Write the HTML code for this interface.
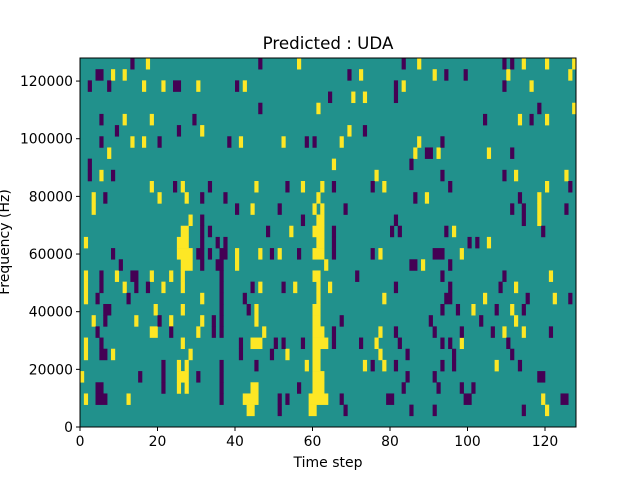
<!DOCTYPE html>
<html><head><meta charset="utf-8"><style>
body{margin:0;background:#fff;font-family:"Liberation Sans","DejaVu Sans",sans-serif;}
svg text{font-family:"DejaVu Sans","Liberation Sans",sans-serif;}
</style></head><body>
<svg id="s" width="640" height="480" xmlns="http://www.w3.org/2000/svg">
<rect x="0" y="0" width="640" height="480" fill="#fff"/>
<rect x="80" y="58" width="496" height="369" fill="#21918c"/>
<g id="cells"></g>
<rect x="80" y="58" width="496" height="369" fill="none" stroke="#000" stroke-width="1"/>
<text x="328" y="49" font-size="16.7" text-anchor="middle">Predicted : UDA</text>
<text x="328" y="467" font-size="14" text-anchor="middle">Time step</text>
<text x="9" y="242" font-size="14" text-anchor="middle" transform="rotate(-90 9 242)">Frequency (Hz)</text>
<g id="ticks" font-size="13.9"></g>
</svg>
<script>
var Y={0:"17,56,87,114,120,127",1:"8,11,72,91,110,126",2:"16,21,30,42,83,116",3:"70,73",4:"61,127",5:"11,18,113,120",6:"31,69",7:"13,16,41,52,67,87",8:"7,86,92,105",9:"65",10:"5,76,112,125",11:"18,26,45,57,62,78,120",12:"3,20,27,61,89,118",13:"3,44,60,62,118",14:"28,61-62,118",15:"26-27,54,60-62,96",16:"1,25-27,61-62,105",17:"25-28,40,46,51,60-62,77,98",18:"26-28,40,63,88",19:"1,9,18,23,26,60-61,121",20:"1,11,21,26,46,55,61,64,112",21:"1,31,61,78,104,122",22:"19,26,45,60-61,101,111",23:"3,14,23,31,45,60-61,112",24:"18-19,30,47,60-62,77,109,114",25:"1,26,44-46,60-63,76,98",26:"1,8,28,53,60-61,77",27:"25,27,58,60-61,73,78,107",28:"0,25-27,60-62",29:"25,27,44-45,60-62",30:"1,12,42-45,59-63,119",31:"43-44,59-60,120"};
var P={0:"13,46,83,109,111",1:"4-5,69,94,99",2:"2,7,24-25,40,81,109",3:"64,81",4:"46,118",5:"5,29,104,116",6:"9,25,73",7:"5,20,38,58,60,93",8:"89-90,111",9:"2,85",10:"2,8,93,109",11:"24,33,53,65,75,95,126",12:"6,31,37,86,113",13:"40,51,68,111,114,125",14:"31,57,81,114",15:"31,33,48,65,80,82,94,119",16:"31,35,37,65,100,102",17:"8,30-31,33,36-37,49,56,65,75,91-93",18:"10,31,35-36,85-86,95",19:"5,13-14,36,71,93,109",20:"5,14,17,36,44,52,81,95,108",21:"4,12,36,42,94-95,115,126",22:"6-7,36,43,93,97,107,114",23:"6,20,34,36,67,90,103",24:"4,23,34,36,65,81,91,98,106,121",25:"5,41,50,52,57,65,72,82,93,95,110",26:"5-6,41,49,84,96,111",27:"21,36,45,75,81,93,96,113",28:"15,21,30,36,84,91,118-119",29:"4-5,21,36,56,83,92,98,101",30:"4-6,36,51,53,67,79-80,99-100,124-125",31:"51,68,85,91,114"};
var g=document.getElementById('cells'),ns="http://www.w3.org/2000/svg";
var cw=496/128,ch=369/33;
function draw(m,c){for(var r in m){m[r].split(',').forEach(function(t){var a=t.split('-').map(Number);var s=a[0],e=a.length>1?a[1]:a[0];var R=document.createElementNS(ns,'rect');R.setAttribute('x',80+s*cw);R.setAttribute('y',58+(+r)*ch);R.setAttribute('width',(e-s+1)*cw+0.3);R.setAttribute('height',ch+0.3);R.setAttribute('fill',c);g.appendChild(R);});}}
draw(Y,'#fde725');draw(P,'#440154');
var tk=document.getElementById('ticks'),h='';
for(var v=0;v<=120;v+=20){var x=80+v*cw;h+='<line x1="'+x+'" y1="427" x2="'+x+'" y2="431" stroke="#000"/><text x="'+x+'" y="446" text-anchor="middle">'+v+'</text>';}
for(var f=0;f<=120000;f+=20000){var y=427-f/128000*369;h+='<line x1="76" y1="'+y+'" x2="80" y2="'+y+'" stroke="#000"/><text x="73" y="'+(y+5)+'" text-anchor="end">'+f+'</text>';}
tk.innerHTML=h;
</script>
</body></html>
